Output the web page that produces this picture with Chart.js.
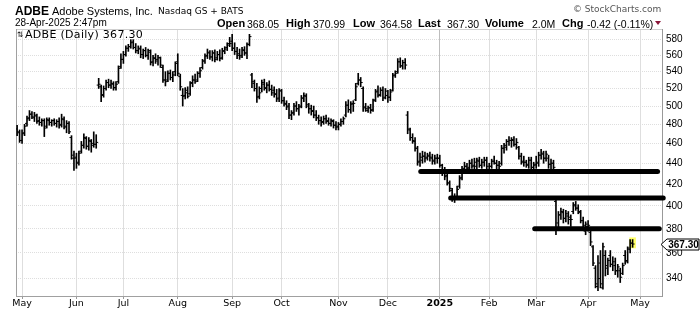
<!DOCTYPE html>
<html>
<head>
<meta charset="utf-8">
<script src="https://cdn.jsdelivr.net/npm/chart.js@4.4.1/dist/chart.umd.min.js"></script>
<style>
  body { margin: 0; background: #fff; }
  #wrap { position: relative; width: 700px; height: 312px; overflow: hidden; }
  #wrap canvas { position: absolute; left: 0; top: 0; }
  .t { position: absolute; line-height: 1; white-space: nowrap; color: #000; }
  .ar { font-family: "Liberation Sans", Arial, sans-serif; }
  .dv { font-family: "DejaVu Sans", Verdana, sans-serif; }
  .lb { font: bold 11px "Liberation Sans", Arial, sans-serif; top: 17.4px; }
  .vl { font: 10.5px "Liberation Sans", Arial, sans-serif; top: 17.8px; }
  #tri { position: absolute; left: 655px; top: 21px; width: 0; height: 0;
         border-left: 3.5px solid transparent; border-right: 3.5px solid transparent;
         border-top: 4px solid #8b1538; }
</style>
</head>
<body>
<div id="wrap">
  <canvas id="chart" width="700" height="312"></canvas>

  <!-- header -->
  <div class="t ar" style="left:15px;top:4.8px;font-size:12px;font-weight:bold">ADBE</div>
  <div class="t ar" style="left:52px;top:5.7px;font-size:11px">Adobe Systems, Inc.</div>
  <div class="t dv" style="left:158px;top:7.4px;font-size:9px">Nasdaq GS + BATS</div>
  <div class="t dv" style="left:573px;top:5.4px;font-size:9px;color:#555">&copy; StockCharts.com</div>
  <div class="t ar" style="left:15px;top:18.2px;font-size:10px">28-Apr-2025 2:47pm</div>

  <div class="t lb" style="left:217px">Open</div><div class="t vl" style="left:247px">368.05</div>
  <div class="t lb" style="left:286px">High</div><div class="t vl" style="left:313px">370.99</div>
  <div class="t lb" style="left:353px">Low</div><div class="t vl" style="left:380px">364.58</div>
  <div class="t lb" style="left:418px">Last</div><div class="t vl" style="left:447px">367.30</div>
  <div class="t lb" style="left:485px">Volume</div><div class="t vl" style="left:532px">2.0M</div>
  <div class="t lb" style="left:562px">Chg</div><div class="t vl" style="left:587px">-0.42 (-0.11%)</div>
  <div id="tri"></div>

  <!-- legend inside plot -->
  <div class="t dv" style="left:17px;top:31px;font-size:7.5px">&#8645;</div>
  <div class="t dv" style="left:25px;top:29px;font-size:11px;letter-spacing:0.3px">ADBE (Daily) 367.30</div>
</div>

<script>
// daily OHLC, 29-Apr-2024 .. 28-Apr-2025 (x = trading day number)
const opens = [
  475,471,463,471,481,487,491,487,489,484,482,484,478,484,482,484,481,483,480,485,478,481,466,445,
  446,441,452,458,465,457,462,460,459,524,522,513,520,527,524,525,521,528,546,
  555,561,569,571,577,570,566,568,561,566,560,564,552,556,555,557,545,530,530,538,533,540,
  552,534,512,512,518,514,527,530,530,538,545,553,560,563,558,563,557,561,557,565,570,575,
  578,569,565,562,560,566,563,574,536,526,520,511,520,525,520,524,519,518,514,509,
  517,506,502,500,490,493,500,497,500,509,511,500,497,495,490,487,484,483,486,484,481,483,479,
  478,480,483,490,501,496,503,507,526,530,520,499,495,498,496,507,517,513,518,510,
  512,510,518,536,540,552,547,551,490,474,466,462,455,442,443,447,446,447,445,442,445,
  445,438,432,428,421,414,406,408,418,426,435,437,436,440,438,437,442,438,441,443,
  433,437,442,440,438,440,455,456,462,463,463,459,456,447,442,441,439,443,436,
  439,440,448,449,445,445,439,440,404,385,392,394,389,391,388,395,400,398,394,387,378,
  382,377,365,348,334,352,333,358,348,358,351,350,346,346,344,358,354,363,368.05
];
const highs = [
  479,474,474,480,489,495,494,493,491,488,486,486,487,487,485,486,485,487,491,488,484,483,468,452,
  450,452,462,470,467,466,464,472,469,532,524,523,530,531,530,528,528,547,562,
  565,572,574,580,580,575,572,572,568,570,568,567,560,562,560,558,548,540,541,542,540,552,
  562,537,520,521,522,528,535,537,540,545,555,562,568,566,566,567,565,567,569,571,576,583,
  587,576,570,568,570,571,576,587,538,530,526,522,530,531,527,529,524,522,519,520,
  519,510,506,503,495,503,505,502,512,515,514,503,501,500,495,490,488,489,490,487,486,485,483,
  482,486,488,505,507,505,506,526,538,533,522,503,500,502,508,519,523,521,522,520,
  518,519,538,541,556,557,554,556,494,476,470,466,457,450,452,451,450,451,449,448,449,
  448,439,436,430,423,416,411,418,428,437,441,440,443,444,445,445,446,444,446,446,
  440,444,447,443,442,458,460,464,467,466,467,465,457,450,447,443,446,446,441,
  447,451,454,452,452,448,444,443,406,395,398,397,396,395,392,403,404,401,396,390,386,
  387,378,366,350,358,362,368,362,356,362,357,356,351,348,352,362,365,371,370.99
];
const lows = [
  468,461,460,468,478,484,486,483,481,479,478,467,476,479,478,479,477,476,477,475,471,470,444,433,
  435,438,450,455,454,453,451,456,455,520,505,510,518,521,520,518,518,526,544,
  550,559,565,569,568,563,562,557,556,558,555,548,547,550,548,545,527,523,528,530,528,535,
  535,518,500,508,509,512,522,526,528,533,543,550,556,555,553,552,554,553,555,562,566,571,
  566,561,556,555,557,560,556,572,521,517,504,508,516,518,515,517,512,510,505,505,
  503,500,496,486,485,490,494,490,498,505,498,492,490,487,484,480,478,480,481,479,478,476,474,
  474,478,480,488,493,492,494,506,524,522,494,494,493,492,494,505,510,511,506,508,
  504,506,517,533,538,545,543,543,470,463,460,452,438,437,440,441,443,442,439,439,440,
  436,428,424,419,413,404,403,406,416,424,432,431,434,435,434,434,436,435,437,434,
  431,435,439,434,434,438,450,453,458,456,457,454,444,439,437,436,435,434,433,
  435,437,444,440,442,435,434,433,375,380,388,385,386,384,382,393,396,393,385,380,375,
  378,366,350,333,331,333,332,342,343,349,346,343,341,337,343,351,352,360,364.58
];
const closes = [
  472,463,470,478,486,491,488,490,483,482,484,476,485,482,484,481,483,479,486,477,481,472,448,445,
  440,450,458,466,457,463,458,459,461,525,512,520,527,524,526,521,525,544,555,
  561,569,571,576,570,566,569,561,566,560,566,551,557,553,557,548,530,528,538,533,536,550,
  538,522,511,515,511,526,530,528,538,541,553,559,564,558,563,555,561,556,566,568,573,575,
  569,565,560,558,567,563,574,584,528,520,510,515,527,521,524,519,515,513,508,518,
  506,503,499,490,492,500,497,499,509,512,502,497,494,490,487,484,482,486,483,481,484,479,477,
  480,483,486,501,496,502,503,522,530,527,498,497,498,495,506,516,512,518,509,517,
  510,516,535,538,552,547,551,548,475,466,463,455,441,446,447,445,448,446,443,445,445,
  438,432,427,421,416,407,408,415,425,434,437,435,440,437,441,443,438,441,443,437,
  437,442,440,438,437,455,458,462,463,464,459,461,447,441,441,438,443,436,438,
  441,448,450,445,449,439,440,436,380,392,395,389,393,390,388,401,398,395,387,383,384,
  383,369,352,336,340,336,365,350,354,351,353,346,349,341,350,353,364,368,367.30
];

// first trading day of each month and its label
const monthStarts = [2, 24, 43, 65, 87, 107, 130, 150, 171, 191, 210, 231, 252];
const monthLabels = ['May','Jun','Jul','Aug','Sep','Oct','Nov','Dec','2025','Feb','Mar','Apr','May'];
const priceTicks = [340, 360, 380, 400, 420, 440, 460, 480, 500, 520, 540, 560, 580];

// hand drawn support lines: level, from day, to day
const supportLevels = [432, 407, 380];
const supportFrom = [163.3, 175.4, 209.4];
const supportTo = [259.1, 261.4, 259.8];

const last = closes.length - 1;
const ranges = lows.map((l, i) => ({ x: i, y: [l, highs[i]] }));
const openPts = opens.map((v, i) => ({ x: i, y: v }));
const closePts = closes.map((v, i) => ({ x: i, y: v }));

const tickStyle = {
  type: 'line', showLine: false, pointStyle: 'dash', pointRadius: 2,
  pointBorderWidth: 1, pointBorderColor: '#000', pointBackgroundColor: '#000',
  pointHoverRadius: 2
};

const datasets = [
  { type: 'bar', data: [{ x: last, y: [lows[last] - 0.5, highs[last] + 1.5] }],
    backgroundColor: '#ffff66', barThickness: 6, grouped: false, order: 5 },
  { type: 'bar', data: ranges, backgroundColor: '#000', barThickness: 1, grouped: false, order: 4 },
  Object.assign({ data: openPts, pointRotation: 180, order: 3 }, tickStyle),
  Object.assign({ data: closePts, pointRotation: 0, order: 3 }, tickStyle)
];
supportLevels.forEach((lvl, k) => {
  datasets.push({
    type: 'line', data: [{ x: supportFrom[k], y: lvl }, { x: supportTo[k], y: lvl }],
    borderColor: '#000', borderWidth: 5, borderCapStyle: 'round',
    pointRadius: 0, clip: false, order: 0
  });
});

// frame on left/top and the last price tag on the right
const extras = {
  id: 'extras',
  beforeDatasetsDraw(chart) {
    const { ctx, chartArea: a } = chart;
    ctx.save();
    ctx.lineWidth = 1;
    ctx.strokeStyle = '#cfcfcf';
    ctx.beginPath();
    ctx.moveTo(a.left, a.top + 0.5);
    ctx.lineTo(a.right, a.top + 0.5);
    ctx.stroke();
    ctx.strokeStyle = '#a0a0a0';
    ctx.beginPath();
    ctx.moveTo(a.left + 0.5, a.top);
    ctx.lineTo(a.left + 0.5, a.bottom);
    ctx.stroke();
    ctx.restore();
  },
  afterDraw(chart) {
    const { ctx, chartArea: a } = chart;
    const y = Math.round(chart.scales.y.getPixelForValue(closes[last])) + 0.5;
    const tip = a.right - 1, bl = a.right + 5, br = chart.width - 1;
    ctx.save();
    ctx.beginPath();
    ctx.moveTo(tip, y);
    ctx.lineTo(bl, y - 5.5);
    ctx.lineTo(br, y - 5.5);
    ctx.lineTo(br, y + 5.5);
    ctx.lineTo(bl, y + 5.5);
    ctx.closePath();
    ctx.fillStyle = '#fff';
    ctx.fill();
    ctx.strokeStyle = '#000';
    ctx.lineWidth = 1;
    ctx.stroke();
    ctx.fillStyle = '#000';
    ctx.font = 'bold 10px "Liberation Sans", Arial, sans-serif';
    ctx.textAlign = 'center';
    ctx.textBaseline = 'middle';
    ctx.fillText(closes[last].toFixed(2), (bl + br) / 2 + 0.5, y + 0.5);
    ctx.restore();
  }
};

new Chart(document.getElementById('chart'), {
  type: 'bar',
  data: { datasets: datasets },
  plugins: [extras],
  options: {
    responsive: false,
    animation: false,
    devicePixelRatio: 1,
    layout: { padding: { top: 29, left: 16, right: 0, bottom: 0 } },
    plugins: { legend: { display: false }, tooltip: { enabled: false } },
    scales: {
      x: {
        type: 'linear', min: -0.45, max: 260.9, offset: false,
        afterBuildTicks: s => { s.ticks = monthStarts.map(v => ({ value: v })); },
        afterFit: s => { s.height = 16; },
        ticks: {
          autoSkip: false, maxRotation: 0, padding: 0, color: '#000',
          font: c => ({ family: '"DejaVu Sans", Verdana, sans-serif', size: 9.5, lineHeight: 1,
                        weight: c.tick && c.tick.value === 171 ? 'bold' : 'normal' }),
          callback: v => monthLabels[monthStarts.indexOf(v)]
        },
        grid: {
          offset: false, tickLength: 3, tickColor: '#999',
          color: c => (c.tick && c.tick.value === 171 ? '#bdbdbd' : '#dedede')
        },
        border: { color: '#a0a0a0' }
      },
      y: {
        type: 'logarithmic', position: 'right', min: 327, max: 594,
        afterBuildTicks: s => { s.ticks = priceTicks.map(v => ({ value: v })); },
        afterFit: s => { s.width = 38; },
        ticks: {
          padding: 4, color: '#000',
          font: { family: '"Liberation Sans", Arial, sans-serif', size: 10 },
          callback: v => String(v)
        },
        grid: { drawTicks: false, color: '#dedede' },
        border: { color: '#999', dash: [1, 1] }
      }
    }
  }
});
</script>
</body>
</html>
